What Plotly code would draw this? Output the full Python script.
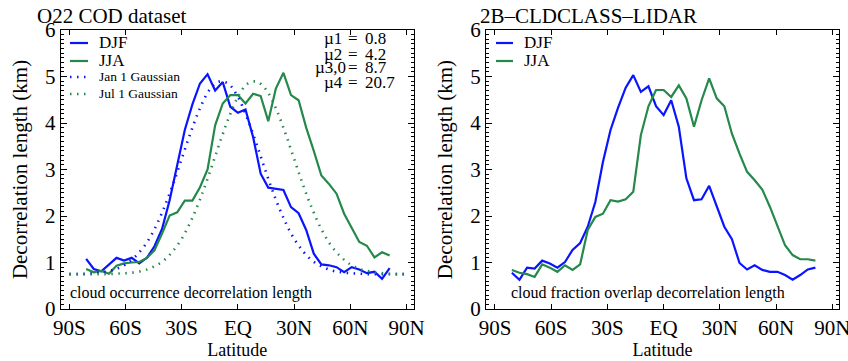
import plotly.graph_objects as go

# latitude grid of the seasonal curves (deg, negative = south)
lat = [-81.0, -76.95, -72.9, -68.85, -64.8, -60.75, -56.7, -52.65, -48.6, -44.55,
       -40.5, -36.45, -32.4, -28.35, -24.3, -20.25, -16.2, -12.15, -8.1, -4.05,
       0.0, 4.05, 8.1, 12.15, 16.2, 20.25, 24.3, 28.35, 32.4, 36.45,
       40.5, 44.55, 48.6, 52.65, 56.7, 60.75, 64.8, 68.85, 72.9, 76.95, 81.0]

# O22 COD dataset (left panel)
cod_djf = [1.08, 0.86, 0.81, 0.95, 1.10, 1.04, 1.10, 0.98, 1.10, 1.35,
           1.72, 2.34, 3.10, 3.85, 4.40, 4.85, 5.05, 4.70, 4.88, 4.35,
           4.22, 4.29, 3.70, 2.91, 2.61, 2.58, 2.56, 2.19, 2.06, 1.70,
           1.19, 0.96, 0.94, 0.90, 0.79, 0.90, 0.85, 0.77, 0.80, 0.65, 0.88]
cod_jja = [0.86, 0.79, 0.82, 0.76, 0.93, 0.98, 1.00, 1.01, 1.10, 1.26,
           1.62, 2.01, 2.08, 2.33, 2.33, 2.62, 3.00, 3.95, 4.42, 4.60,
           4.60, 4.42, 4.63, 4.58, 4.04, 4.74, 5.08, 4.60, 4.49, 3.90,
           3.40, 2.87, 2.69, 2.48, 2.05, 1.76, 1.44, 1.36, 1.11, 1.22, 1.15]

# Gaussian fits
gauss_lat = [-90, -85, -80, -75, -70, -65, -60, -55, -50, -45, -40, -35, -30,
             -25, -20, -15, -10, -5, 0, 5, 10, 15, 20, 25, 30, 35, 40, 45, 50,
             55, 60, 65, 70, 75, 80, 85, 90]
jan_gauss = [0.75, 0.75, 0.76, 0.78, 0.81, 0.86, 0.96, 1.12, 1.35, 1.68, 2.12,
             2.64, 3.23, 3.82, 4.34, 4.72, 4.89, 4.84, 4.56, 4.10, 3.54, 2.94,
             2.38, 1.90, 1.51, 1.23, 1.03, 0.91, 0.83, 0.79, 0.77, 0.76, 0.75,
             0.75, 0.75, 0.75, 0.75]
jul_gauss = [0.75, 0.75, 0.75, 0.75, 0.75, 0.76, 0.77, 0.79, 0.83, 0.91, 1.03,
             1.23, 1.51, 1.90, 2.38, 2.94, 3.54, 4.10, 4.56, 4.84, 4.89, 4.72,
             4.34, 3.82, 3.23, 2.64, 2.12, 1.68, 1.35, 1.12, 0.96, 0.86, 0.81,
             0.78, 0.76, 0.75, 0.75]

# 2B-CLDCLASS-LIDAR (right panel)
lidar_djf = [0.78, 0.63, 0.89, 0.87, 1.04, 0.98, 0.89, 1.01, 1.27, 1.42,
             1.77, 2.30, 3.16, 3.85, 4.33, 4.76, 5.03, 4.67, 4.79, 4.36,
             4.17, 4.49, 3.92, 2.81, 2.34, 2.36, 2.65, 2.20, 1.77, 1.50,
             0.99, 0.85, 0.94, 0.84, 0.80, 0.80, 0.73, 0.63, 0.73, 0.85, 0.89]
lidar_jja = [0.84, 0.78, 0.75, 0.69, 0.96, 0.89, 0.80, 0.94, 0.84, 0.96,
             1.70, 1.98, 2.05, 2.34, 2.31, 2.36, 2.52, 3.74, 4.36, 4.71,
             4.71, 4.56, 4.81, 4.53, 3.92, 4.49, 4.96, 4.53, 4.36, 3.77,
             3.34, 2.95, 2.77, 2.57, 2.20, 1.77, 1.37, 1.16, 1.07, 1.07, 1.04]

xtick_vals = [-90, -60, -30, 0, 30, 60, 90]
xtick_text = ["90S", "60S", "30S", "EQ", "30N", "60N", "90N"]
mu_labels = ["µ1", "µ2", "µ3,0", "µ4"]
mu_values = ["0.8", "4.2", "8.7", "20.7"]

BLUE = "#0a14ff"
GREEN = "#24894a"
FONT = "Liberation Serif"
W, H = 848, 361

fig = go.Figure()
fig.add_trace(go.Scatter(x=lat, y=cod_djf, mode="lines", line=dict(color=BLUE, width=2.2),
                         xaxis="x", yaxis="y", showlegend=False))
fig.add_trace(go.Scatter(x=lat, y=cod_jja, mode="lines", line=dict(color=GREEN, width=2.2),
                         xaxis="x", yaxis="y", showlegend=False))
fig.add_trace(go.Scatter(x=gauss_lat, y=jan_gauss, mode="lines",
                         line=dict(color=BLUE, width=2.6, dash="1.5px,5.5px", shape="spline"),
                         xaxis="x", yaxis="y", showlegend=False))
fig.add_trace(go.Scatter(x=gauss_lat, y=jul_gauss, mode="lines",
                         line=dict(color=GREEN, width=2.6, dash="1.5px,5.5px", shape="spline"),
                         xaxis="x", yaxis="y", showlegend=False))
fig.add_trace(go.Scatter(x=lat, y=lidar_djf, mode="lines", line=dict(color=BLUE, width=2.2),
                         xaxis="x2", yaxis="y2", showlegend=False))
fig.add_trace(go.Scatter(x=lat, y=lidar_jja, mode="lines", line=dict(color=GREEN, width=2.2),
                         xaxis="x2", yaxis="y2", showlegend=False))

def px(x):
    return x / W

def py(y):
    return 1 - y / H

ydom = [py(309), py(30)]
xaxis_common = dict(tickvals=xtick_vals, ticktext=xtick_text, ticks="inside", ticklen=5,
                    tickwidth=1, tickcolor="black", showline=True, linecolor="black",
                    linewidth=1, mirror="ticks", showgrid=False, zeroline=False,
                    automargin=False, ticklabelstandoff=0, ticklabeloverflow="allow",
                    tickfont=dict(family=FONT, size=21, color="black"),
                    title=dict(text="Latitude", font=dict(family=FONT, size=18, color="black"),
                               standoff=4))
yaxis_common = dict(range=[0, 6], dtick=1, ticks="inside", ticklen=6, tickwidth=1,
                    tickcolor="black", showline=True, linecolor="black", linewidth=1,
                    mirror="ticks", showgrid=False, zeroline=False, domain=ydom,
                    automargin=False, ticklabeloverflow="allow",
                    minor=dict(dtick=0.1, ticks="inside", ticklen=3, tickcolor="black",
                               showgrid=False),
                    tickfont=dict(family=FONT, size=21, color="black"),
                    title=dict(text="Decorrelation length (km)",
                               font=dict(family=FONT, size=21, color="black"), standoff=11))

fig.update_layout(
    width=W, height=H, margin=dict(l=0, r=0, t=0, b=0),
    paper_bgcolor="white", plot_bgcolor="white",
    xaxis=dict(domain=[px(60.7), px(414)], range=[-94.6, 94.0], anchor="y", **xaxis_common),
    yaxis=dict(anchor="x", **yaxis_common),
    xaxis2=dict(domain=[px(486), px(839)], range=[-94.8, 93.6], anchor="y2", **xaxis_common),
    yaxis2=dict(anchor="x2", **yaxis_common),
)

shapes = []
annotations = []

def ann(x, y, text, size, xanchor="left", yanchor="middle"):
    annotations.append(dict(x=px(x), y=py(y), xref="paper", yref="paper", text=text,
                            showarrow=False, xanchor=xanchor, yanchor=yanchor,
                            font=dict(family=FONT, size=size, color="black")))

def legline(x0, x1, y, color, dotted=False):
    shapes.append(dict(type="line", xref="paper", yref="paper", x0=px(x0), x1=px(x1),
                       y0=py(y), y1=py(y),
                       line=dict(color=color, width=2.6 if dotted else 2.2,
                                 dash="1.5px,5.5px" if dotted else "solid")))

# titles
ann(35, 16, "O22 COD dataset", 21)
ann(478, 16, "2B\u2013CLDCLASS\u2013LIDAR", 21)

# left legend
legline(70, 88, 43, BLUE)
legline(70, 88, 61, GREEN)
legline(70, 88, 77, BLUE, dotted=True)
legline(70, 88, 94, GREEN, dotted=True)
ann(97, 43, "DJF", 17)
ann(97, 61, "JJA", 17)
ann(97, 77, "Jan 1 Gaussian", 13.5)
ann(97, 94, "Jul 1 Gaussian", 13.5)

# right legend
legline(496, 513, 43, BLUE)
legline(496, 513, 61, GREEN)
ann(522, 43, "DJF", 17)
ann(522, 61, "JJA", 17)

# parameter block
mu_y = [39, 54, 68, 82]
mu_x = [322, 322, 313, 322]
for lab, val, yy, xx in zip(mu_labels, mu_values, mu_y, mu_x):
    ann(xx, yy, lab, 17)
    ann(353, yy, "=", 17, xanchor="center")
    ann(363, yy, val, 17)

# panel captions
ann(68, 293, "cloud occurrence decorrelation length", 16)
ann(509, 293, "cloud fraction overlap decorrelation length", 16)

fig.update_layout(shapes=shapes, annotations=annotations)
fig.write_html("out.html", config={"displayModeBar": False},
               post_script="document.body.style.margin='0px';")
